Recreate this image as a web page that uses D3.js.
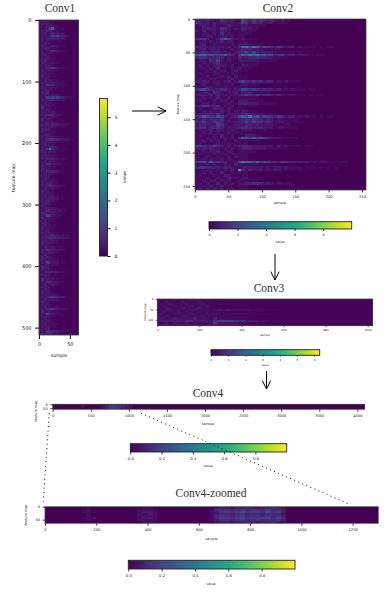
<!DOCTYPE html>
<html>
<head>
<meta charset="utf-8">
<script src="https://cdnjs.cloudflare.com/ajax/libs/d3/7.8.5/d3.min.js"></script>
<style>
html, body { margin: 0; padding: 0; background: #fff; }
svg { display: block; }
text { font-family: "DejaVu Sans", sans-serif; fill: #222; }
.title { font-family: "Liberation Serif", serif; fill: #333; }
</style>
</head>
<body>
<div id="chart"></div>
<script>
// every digit is one block of the heatmap
var conv1Rows = [
"1232110000000000","1323210000000000","1213221100000000","1223692111000000",
"1324321100000000","1332343322100000","1222465654321000","1323343433210000",
"1213211110000000","1232100000000000","1322343211100000","1233221100000000",
"1213354322100000","1322211100000000","1232110000000000","1323211000000000",
"2342110000000000","1432221100000000","1223210000000000","1224563322100000",
"1323221100000000","1232110000000000","1412211000000000","1323100000000000",
"1232321100000000","1323232211000000","1225443221100000","1322221100000000",
"1233211000000000","1324110000000000","1222232211000000","1326565654321100",
"1423443322100000","1232211000000000","1323110000000000","1522211000000000",
"1323210000000000","1233232111000000","1324543221000000","1232221100000000",
"1413210000000000","1223221100000000","1324343322110000","1232332111000000",
"1423211000000000","1322110000000000","1233210000000000","1323332211000000",
"1224554433221100","1323222111000000","1242211000000000","1332443211000000",
"1325942211100000","1423322110000000","1232111000000000","1323221100000000",
"1324443322110000","1232321100000000","1225433221100000","1322211000000000",
"1423211000000000","1324443211000000","1232210000000000","1323100000000000",
"1232110000000000","1322221100000000","1323321100000000","1324543221100000",
"1232221100000000","1422110000000000","1323210000000000","1232321100000000",
"1323332211000000","1224221100000000","1333211000000000","1322100000000000",
"1233221100000000","1324333221100000","1442322100000000","1336532110000000",
"1423211100000000","1232110000000000","1323100000000000","1232211000000000",
"1322110000000000","1223100000000000","1323221100000000","1233443322110000",
"1324555443321000","1232332211000000","1423221100000000","1322110000000000",
"1233232111000000","1425433221100000","1323221100000000","1232110000000000",
"1423211000000000","1322211100000000","1326433211100000","1233221100000000",
"1423110000000000","1322100000000000","1234443322100000","1323211100000000",
"1232110000000000","1423221100000000","1325433211000000","1232221100000000",
"1323110000000000","1232100000000000","1423110000000000","1322221100000000",
"1324554433211000","1233332211000000","1422110000000000","1323100000000000",
"1232211100000000","1324554332210000","1423321100000000","1336432111000000",
"1323211000000000","1232100000000000","1323210000000000","1232221100000000",
"1323211000000000","1223100000000000","1225543322100000","1323321100000000"
];

var conv2Rows = [
"322321143221164353432321211000000000000000000000",
"432213223121254243312211110000000000000000000000",
"123213111321122111110000000000000000000000000000",
"112322143212132211000000000000000000000000000000",
"213122132100121110000000000000000000000000000000",
"112212141210111100000000000000000000000000000000",
"111221122120110000000000000000000000000000000000",
"455311257532121111000000000000000000000000000000",
"112121231220111000000000000000000000000000000000",
"123112111121222211100000000000000000000000000000",
"332223221302478687465435423312111101011000000000",
"123122211121233322211111000000000000000000000000",
"234323322212345353232211111101000000000000000000",
"677565557431576878675634523312221011100000000000",
"344333431211322334332211110000000000000000000000",
"122143521210222222111110000000000000000000000000",
"112123412101111111000000000000000000000000000000",
"121212322120122111000000000000000000000000000000",
"112121311021211100000000000000000000000000000000",
"111212122013111000000000000000000000000000000000",
"121112211121100000000000000000000000000000000000",
"111211121202111000000000000000000000000000000000",
"121122111131111000000000000000000000000000000000",
"223212212312454343423312121111000000000000000000",
"112111211120122111000000000000000000000000000000",
"111221112102111000000000000000000000000000000000",
"456432344212365454343323121211101100000000000000",
"122214321213122211111000000000000000000000000000",
"233231322122345435344323212211101011000000000000",
"112121311201111111000000000000000000000000000000",
"121112122120222111100000000000000000000000000000",
"112212111211333222111110000000000000000000000000",
"345533412120111111000000000000000000000000000000",
"121113221211111000000000000000000000000000000000",
"112121131202122111000000000000000000000000000000",
"222332421222233222211100000000000000000000000000",
"457544652133676857465435423312121101011000000000",
"223233341211234343323212111110000000000000000000",
"345334431222345354433312211111000000000000000000",
"233222542112223323222211111000000000000000000000",
"344233431222344323322212211110000000000000000000",
"121221321121122211110000000000000000000000000000",
"112121211212111110000000000000000000000000000000",
"121112131120112221100000000000000000000000000000",
"111212122131476575654322111110000000000000000000",
"112121212102111111000000000000000000000000000000",
"121111211211111000000000000000000000000000000000",
"554345431212344323322212121111011000000000000000",
"223232212121233322221111110000000000000000000000",
"112122311210111110000000000000000000000000000000",
"121112122121111000000000000000000000000000000000",
"111211211202111000000000000000000000000000000000",
"112121121210111000000000000000000000000000000000",
"566374543122687767565443543323231212211011100000",
"111212112103111111000000000000000000000000000000",
"344333323321122222212122121111011101010100000000",
"111211212131941422212122111101100000000000000000",
"112121131021211000000000000000000000000000000000",
"121112113210111000000000000000000000000000000000",
"111211211312122111100000000000000000000000000000",
"112122121201111111000000000000000000000000000000",
"121211312120223344323212111100000000000000000000",
"112131231201111000000000000000000000000000000000",
"121212121120111000000000000000000000000000000000"
];

var conv3Rows = [
"122122212121210000000000000000000000000000000000000000",
"213221322132110000000000000000000000000000000000000000",
"222322232223211211100000000000000000000000000000000000",
"122231223122310000000000000000000000000000000000000000",
"213222322232210000000000000000000000000000000000000000",
"223322223322223434333332221111100000000000000000000000",
"132223132232211110000000000000000000000000000000000000",
"322233223322323222222222111110000000000000000000000000",
"223222332223212111000000000000000000000000000000000000",
"332343333433324222111110000000000000000000000000000000",
"444444455444435666655544433321111000000000000000000000",
"223233232323236443332221111000000000000000000000000000",
"132222322322224222222111000000000000000000000000000000"
];

var conv4Rows = [
"000000010000124443210000000000000000000000000000000000000000000000000000000000",
"000000010000135543210000000000000000000000000000000000000000000000000000000000",
"000000000000124432100000000000000000000000000000000000000000000000000000000000"
];

var zoomRows = [
"00000000000000000001100000000000012212232122321000000000000000000",
"00000000100000000011110000000000134434534435342000000000000000000",
"00000001110000000012210000000000124545645546452000000000000000000",
"00000000100000000011210000000000123323423323331000000000000000000",
"00000000100000000011110000000000134434534434342000000000000000000",
"00000001110000000012210000000000135545645556463000000000000000000",
"00000000100000000011110000000000124434534434342000000000000000000",
"00000000000000000001100000000000012212232122321000000000000000000"
];

// digit to fraction of the colour range, one list per heatmap
var conv1Levels = [0.01, 0.03, 0.05, 0.07, 0.1, 0.14, 0.19, 0.24, 0.3, 0.36];
var conv2Levels = [0, 0.03, 0.06, 0.09, 0.13, 0.18, 0.24, 0.32, 0.42, 0.62];
var conv3Levels = [0.01, 0.02, 0.03, 0.05, 0.07, 0.12, 0.18, 0.25, 0.32, 0.4];
var conv4Levels = [0, 0.035, 0.07, 0.105, 0.14, 0.175, 0.21, 0.245, 0.28, 0.315];

var conv1Ticks = [0, 100, 200, 300, 400, 500];
var conv2Ticks = [0, 50, 100, 150, 200, 250];
var conv3XTicks = [0, 200, 400, 600, 800, 1000];
var conv3YTicks = [0, 50, 100];
var conv4XTicks = [0, 500, 1000, 1500, 2000, 2500, 3000, 3500, 4000];
var zoomXTicks = [0, 200, 400, 600, 800, 1000, 1200];
var fourYTicks = [0, 50];
var bar1Ticks = [0, 1, 2, 3, 4, 5];
var bar2Ticks = [0, 2, 4, 6, 8];
var bar3Ticks = [0, 1, 2, 3, 4, 5, 6];
var bar4Ticks = [0, 0.2, 0.4, 0.6, 0.8];

var svg = d3.select('#chart').append('svg')
    .attr('width', 390)
    .attr('height', 592);

var defs = svg.append('defs');
var grad = defs.append('linearGradient').attr('id', 'viridisH');
var gradV = defs.append('linearGradient').attr('id', 'viridisV')
    .attr('x1', 0).attr('y1', 1).attr('x2', 0).attr('y2', 0);
d3.range(0, 1.001, 0.1).forEach(function(t) {
    grad.append('stop').attr('offset', t).attr('stop-color', d3.interpolateViridis(t));
    gradV.append('stop').attr('offset', t).attr('stop-color', d3.interpolateViridis(t));
});

defs.append('marker')
    .attr('id', 'arrowHead')
    .attr('viewBox', '0 0 12 12')
    .attr('refX', 11).attr('refY', 6)
    .attr('markerWidth', 10).attr('markerHeight', 10)
    .attr('markerUnits', 'userSpaceOnUse')
    .attr('orient', 'auto')
    .append('path')
    .attr('d', 'M1,1L11,6L1,11')
    .attr('fill', 'none')
    .attr('stroke', '#000')
    .attr('stroke-width', 1.2);

function styleAxis(g, font, width) {
    g.select('.domain').remove();
    g.selectAll('line').attr('stroke', '#111').attr('stroke-width', width);
    g.selectAll('text').style('font-size', font + 'px').attr('fill', '#222');
}

function label(x, y, txt, font, rotate) {
    var t = svg.append('text')
        .attr('text-anchor', 'middle')
        .style('font-size', font + 'px')
        .text(txt);
    if(rotate) {
        t.attr('transform', 'translate(' + x + ',' + y + ') rotate(-90)');
    } else {
        t.attr('x', x).attr('y', y);
    }
}

function title(x, y, txt) {
    svg.append('text')
        .attr('class', 'title')
        .attr('x', x).attr('y', y)
        .attr('text-anchor', 'middle')
        .style('font-size', '11.5px')
        .text(txt);
}

function drawHeatmap(o) {
    var g = svg.append('g');
    var xBand = d3.scaleBand().domain(d3.range(o.rows[0].length)).range([o.x0, o.x1]);
    var yBand = d3.scaleBand().domain(d3.range(o.rows.length)).range([o.y0, o.y1]);
    var color = d3.scaleSequential(d3.interpolateViridis).domain([0, 1]);
    var cells = [];
    o.rows.forEach(function(row, r) {
        row.split('').forEach(function(ch, c) {
            cells.push({r: r, c: c, v: o.levels[+ch]});
        });
    });
    g.selectAll('rect')
        .data(cells)
        .enter().append('rect')
        .attr('x', function(d) { return xBand(d.c); })
        .attr('y', function(d) { return yBand(d.r); })
        .attr('width', xBand.bandwidth())
        .attr('height', yBand.bandwidth())
        .attr('shape-rendering', 'crispEdges')
        .attr('fill', function(d) { return color(d.v); });
    g.append('rect')
        .attr('x', o.x0).attr('y', o.y0)
        .attr('width', o.x1 - o.x0).attr('height', o.y1 - o.y0)
        .attr('fill', 'none')
        .attr('stroke', '#444')
        .attr('stroke-width', o.frame || 0.9);

    var xScale = d3.scaleLinear().domain([0, o.xMax]).range([o.x0, o.x1]);
    var yScale = d3.scaleLinear().domain([0, o.yMax]).range([o.y0, o.y1]);
    var gx = g.append('g')
        .attr('transform', 'translate(0,' + o.y1 + ')')
        .call(d3.axisBottom(xScale).tickValues(o.xTicks).tickFormat(d3.format('d')).tickSize(o.tick).tickPadding(o.pad));
    styleAxis(gx, o.font, o.tickWidth);
    var gy = g.append('g')
        .attr('transform', 'translate(' + o.x0 + ',0)')
        .call(d3.axisLeft(yScale).tickValues(o.yTicks).tickFormat(d3.format('d')).tickSize(o.tick).tickPadding(o.pad));
    styleAxis(gy, o.font, o.tickWidth);
}

function drawBar(o) {
    var vertical = o.y1 - o.y0 > o.x1 - o.x0;
    svg.append('rect')
        .attr('x', o.x0).attr('y', o.y0)
        .attr('width', o.x1 - o.x0).attr('height', o.y1 - o.y0)
        .attr('fill', vertical ? 'url(#viridisV)' : 'url(#viridisH)')
        .attr('stroke', '#222')
        .attr('stroke-width', 0.9);
    var scale, axis, g;
    if(vertical) {
        scale = d3.scaleLinear().domain([0, o.vmax]).range([o.y1, o.y0]);
        axis = d3.axisRight(scale);
    } else {
        scale = d3.scaleLinear().domain([0, o.vmax]).range([o.x0, o.x1]);
        axis = d3.axisBottom(scale);
    }
    axis.tickValues(o.ticks).tickFormat(o.format).tickSize(o.tick).tickPadding(o.pad);
    g = svg.append('g')
        .attr('transform', vertical ? 'translate(' + o.x1 + ',0)' : 'translate(0,' + o.y1 + ')')
        .call(axis);
    styleAxis(g, o.font, o.tickWidth);
}

function arrow(x1, y1, x2, y2) {
    svg.append('line')
        .attr('x1', x1).attr('y1', y1)
        .attr('x2', x2).attr('y2', y2)
        .attr('stroke', '#000')
        .attr('stroke-width', 1)
        .attr('marker-end', 'url(#arrowHead)');
}

function dotted(x1, y1, x2, y2) {
    svg.append('line')
        .attr('x1', x1).attr('y1', y1)
        .attr('x2', x2).attr('y2', y2)
        .attr('stroke', '#111')
        .attr('stroke-width', 1)
        .attr('stroke-dasharray', '1 3.4');
}

title(60, 12, 'Conv1');
drawHeatmap({rows: conv1Rows, levels: conv1Levels, x0: 39, x1: 78.5, y0: 20, y1: 335, xMax: 64, yMax: 512,
    xTicks: [0, 50], yTicks: conv1Ticks,
    font: 5, tick: 4, tickWidth: 1, pad: 3.5});
label(14.5, 178, 'feature map', 4.6, true);
label(59, 357, 'sample', 4.6);
drawBar({x0: 99.5, x1: 107.5, y0: 98.5, y1: 256, vmax: 5.67, ticks: bar1Ticks,
    format: d3.format('d'), font: 4.6, tick: 3, tickWidth: 1, pad: 4});
label(126, 177, 'value', 4.4, true);
arrow(132, 111, 166, 111);

title(278, 12, 'Conv2');
drawHeatmap({rows: conv2Rows, levels: conv2Levels, x0: 195, x1: 366, y0: 19, y1: 190, xMax: 256, yMax: 256,
    xTicks: conv2Ticks, yTicks: conv2Ticks,
    font: 3.6, tick: 2.5, tickWidth: 0.8, pad: 2.5, frame: 0.8});
label(179, 104, 'feature map', 3.2, true);
label(280, 204, 'sample', 3.4);
drawBar({x0: 209, x1: 351.7, y0: 221.7, y1: 229, vmax: 10, ticks: bar2Ticks,
    format: d3.format('d'), font: 3.4, tick: 2, tickWidth: 0.8, pad: 2.5});
label(280, 243, 'value', 3.4);
arrow(275, 254, 275, 280);

title(269, 292, 'Conv3');
drawHeatmap({rows: conv3Rows, levels: conv3Levels, x0: 157.3, x1: 372.7, y0: 299, y1: 325.7, xMax: 1024, yMax: 128,
    xTicks: conv3XTicks, yTicks: conv3YTicks,
    font: 2.8, tick: 1.6, tickWidth: 0.6, pad: 2.2, frame: 0.8});
label(145.5, 312, 'feature map', 2.8, true);
label(265, 336, 'sample', 2.8);
drawBar({x0: 211, x1: 319.7, y0: 349.7, y1: 355.3, vmax: 6.32, ticks: bar3Ticks,
    format: d3.format('d'), font: 2.8, tick: 1.5, tickWidth: 0.6, pad: 2});
label(265, 366, 'value', 2.8);
arrow(266.5, 371, 266.5, 389);

title(208, 397, 'Conv4');
drawHeatmap({rows: conv4Rows, levels: conv4Levels, x0: 52.7, x1: 364.7, y0: 404.3, y1: 409.3, xMax: 4096, yMax: 64,
    xTicks: conv4XTicks, yTicks: fourYTicks,
    font: 3.6, tick: 2.5, tickWidth: 0.8, pad: 2.5, frame: 0.8});
label(37, 411, 'feature map', 3.4, true);
label(208, 425, 'sample', 3.4);
drawBar({x0: 130.3, x1: 286.7, y0: 443.7, y1: 452, vmax: 1, ticks: bar4Ticks,
    format: d3.format('.1f'), font: 3.8, tick: 2.5, tickWidth: 0.8, pad: 2.5});
label(208, 467, 'value', 3.4);

dotted(49.3, 413, 43, 505);
dotted(141, 413.3, 350, 504.5);

title(211, 497, 'Conv4-zoomed');
drawHeatmap({rows: zoomRows, levels: conv4Levels, x0: 45, x1: 378.3, y0: 506.7, y1: 523.3, xMax: 1300, yMax: 64,
    xTicks: zoomXTicks, yTicks: fourYTicks,
    font: 3.6, tick: 2.5, tickWidth: 0.8, pad: 2.5, frame: 0.8});
label(27, 515, 'feature map', 3.4, true);
label(211.5, 540, 'sample', 3.4);
drawBar({x0: 128.3, x1: 295, y0: 560.3, y1: 569, vmax: 1, ticks: bar4Ticks,
    format: d3.format('.1f'), font: 3.8, tick: 2.5, tickWidth: 0.8, pad: 2.5});
label(211, 585, 'value', 3.4);
</script>
</body>
</html>
